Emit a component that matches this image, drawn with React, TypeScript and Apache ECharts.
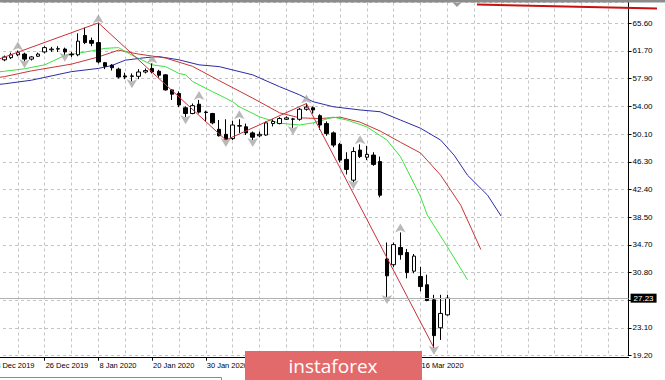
import React, { useEffect, useRef } from "react";
import * as echarts from "echarts";

// ---- data ----
const dates = [
  "13 Dec 2019", "16 Dec 2019", "17 Dec 2019", "18 Dec 2019", "19 Dec 2019", "20 Dec 2019",
  "23 Dec 2019", "24 Dec 2019", "26 Dec 2019", "27 Dec 2019", "30 Dec 2019", "31 Dec 2019",
  "2 Jan 2020", "3 Jan 2020", "6 Jan 2020", "7 Jan 2020", "8 Jan 2020", "9 Jan 2020",
  "10 Jan 2020", "13 Jan 2020", "14 Jan 2020", "15 Jan 2020", "16 Jan 2020", "17 Jan 2020",
  "20 Jan 2020", "21 Jan 2020", "22 Jan 2020", "23 Jan 2020", "24 Jan 2020", "27 Jan 2020",
  "28 Jan 2020", "29 Jan 2020", "30 Jan 2020", "31 Jan 2020", "3 Feb 2020", "4 Feb 2020",
  "5 Feb 2020", "6 Feb 2020", "7 Feb 2020", "10 Feb 2020", "11 Feb 2020", "12 Feb 2020",
  "13 Feb 2020", "14 Feb 2020", "17 Feb 2020", "18 Feb 2020", "19 Feb 2020", "20 Feb 2020",
  "21 Feb 2020", "24 Feb 2020", "25 Feb 2020", "26 Feb 2020", "27 Feb 2020", "28 Feb 2020",
  "2 Mar 2020", "3 Mar 2020", "4 Mar 2020", "5 Mar 2020", "6 Mar 2020", "9 Mar 2020",
  "10 Mar 2020", "11 Mar 2020", "12 Mar 2020", "13 Mar 2020", "16 Mar 2020", "17 Mar 2020",
  "18 Mar 2020", "19 Mar 2020", "20 Mar 2020",
];

const opens = [
  null, null, 60.5, 60.8, 61.2, 61.3, 60.6, 61.0, 61.6, 61.9, 62.0, 62.0,
  61.3, 61.2, 63.9, 63.2, 62.9, 60.1, 59.75, 59.2, 58.25, 58.25, 58.2, 58.8,
  59.3, 58.9, 58.4, 56.3, 55.8, 53.8, 53.0, 54.3, 53.2, 53.0, 50.8, 50.1,
  49.5, 51.3, 51.15, 50.3, 49.9, 50.0, 51.6, 51.6, 52.2, 52.2, 52.2, 53.6,
  53.8, 52.7, 51.6, 50.3, 48.7, 46.6, 43.7, 47.9, 46.9, 47.2, 46.3, 32.7,
  31.9, 34.3, 33.6, 31.0, 30.25, 29.1, 27.0, 23.1, 24.9,
];
const closes = [
  null, null, 60.9, 61.2, 61.5, 60.6, 60.9, 61.3, 62.2, 62.0, 62.05, 61.6,
  61.2, 63.1, 62.9, 62.8, 60.2, 59.6, 59.4, 58.1, 58.1, 58.2, 58.8, 59.0,
  58.8, 58.35, 56.3, 55.7, 54.2, 53.0, 54.1, 53.2, 53.15, 51.7, 49.9, 49.4,
  51.4, 51.25, 50.3, 49.7, 50.1, 51.7, 51.9, 52.3, 52.4, 52.25, 53.6, 53.9,
  53.5, 51.4, 50.2, 48.6, 46.5, 45.2, 47.7, 47.0, 47.3, 45.9, 41.6, 30.35,
  34.7, 33.3, 30.8, 33.1, 28.85, 26.9, 22.0, 25.1, 27.23,
];
const lows = [
  null, null, 60.3, 60.6, 61.0, 60.3, 60.4, 60.9, 61.4, 61.6, 61.6, 61.2,
  60.9, 61.0, 62.7, 62.4, 60.0, 59.2, 59.0, 57.9, 57.8, 57.5, 57.8, 58.6,
  58.6, 58.0, 56.2, 54.9, 53.9, 52.5, 52.9, 53.0, 51.85, 51.5, 49.8, 49.3,
  49.3, 50.3, 50.0, 49.3, 49.7, 49.9, 51.2, 51.5, 52.1, 51.0, 52.0, 53.4,
  53.0, 50.7, 49.9, 48.3, 46.2, 44.5, 43.4, 46.8, 46.5, 45.7, 41.3, 27.4,
  31.6, 32.6, 30.0, 30.7, 28.2, 26.8, 20.3, 21.4, 24.8,
];
const highs = [
  null, null, 61.1, 61.5, 61.8, 61.5, 61.0, 61.5, 62.4, 62.3, 62.4, 62.2,
  61.6, 64.2, 65.0, 63.6, 65.6, 60.2, 59.9, 59.4, 58.7, 58.6, 59.2, 59.3,
  60.0, 59.1, 58.5, 56.4, 56.1, 54.0, 54.4, 54.9, 53.4, 53.1, 52.1, 52.2,
  52.0, 52.2, 51.6, 50.5, 50.5, 51.9, 52.2, 52.5, 52.6, 52.4, 53.8, 54.4,
  54.0, 52.9, 51.9, 50.5, 48.9, 47.6, 48.3, 48.7, 48.5, 47.6, 47.0, 35.0,
  35.0, 36.4, 34.1, 33.4, 31.6, 30.5, 27.7, 27.7, 27.7,
];
const lastPrice = 27.23;

// Alligator lines: [bar index, price]
const jawLine = [
  [0, 56.95], [2, 57.15], [6, 57.65], [12, 58.85], [16, 59.3], [18, 59.7], [20, 60.45],
  [23, 60.8], [25, 60.95], [28, 60.5], [31, 59.8], [34, 59.55], [39, 58.4], [43, 56.75],
  [46, 55.6], [48, 54.65], [51, 53.95], [55, 53.5], [58, 53.25], [61, 52.1], [64, 50.95],
  [67, 49.3], [69, 47.2], [71, 44.4], [74, 41.6], [76, 38.7],
];
const teethLine = [
  [0, 57.9], [2, 58.15], [6, 58.95], [12, 59.9], [16, 60.9], [19, 61.85], [22, 61.3],
  [26, 60.75], [30, 59.6], [34, 57.6], [39, 55.15], [43, 53.1], [46, 52.4], [49, 52.3],
  [52, 52.5], [55, 51.8], [58, 50.55], [61, 49.0], [64, 47.5], [67, 44.4], [70, 40.2],
  [73, 34.0],
];
const lipsLine = [
  [0, 58.7], [2, 58.9], [5, 59.25], [8, 59.8], [11, 61.1], [15, 61.75], [17, 62.1],
  [19, 62.2], [21, 61.15], [22, 60.7], [24, 59.8], [26, 59.55], [28, 58.6], [29, 58.4],
  [30, 57.5], [31, 57.0], [33, 56.05], [34, 55.6], [36, 54.65], [37, 53.95], [40, 52.55],
  [43, 51.65], [46, 51.4], [48, 51.7], [51, 52.5], [53, 52.1], [56, 51.15], [59, 49.3],
  [61, 47.0], [63, 43.3], [64, 41.4], [65, 38.85], [68, 34.4], [71, 29.8],
];
const zigzagLine = [[0, 60.2], [16, 65.65], [35, 49.3], [47, 54.4], [66, 20.3]];
const upFractalBars = [4, 16, 24, 31, 37, 47, 55, 61];
const downFractalBars = [5, 11, 21, 29, 35, 39, 45, 54, 59, 66];
// date labels that lie under the watermark in the reference
const coveredLabelBars = [40, 48, 56];

const yTickLabels = [
  "19.20", "23.10", "", "30.80", "34.70", "38.50", "42.40",
  "46.30", "50.10", "54.00", "57.90", "61.70", "65.60",
];
const Y_MIN = 19.2;
const Y_MAX = 68.5;
const Y_STEP = (65.6 - 19.2) / 12;
const SLOT_COUNT = 96;

const FONT = '"Liberation Sans", Arial, sans-serif';
const SHIFT = 11; // chart canvas starts this many px left of the page

export default function App() {
  const ref = useRef<HTMLDivElement>(null);

  useEffect(() => {
    const chart = echarts.init(ref.current!, null, { renderer: "svg" });
    const categories = Array.from({ length: SLOT_COUNT }, (_, i) => dates[i] ?? `slot${i}`);
    const candleData = dates.map((_, i) =>
      opens[i] == null ? "-" : [opens[i], closes[i], lows[i], highs[i]]
    );
    const tickAt = (idx: number) => idx % 8 === 0 && idx < dates.length;
    const labelAt = (idx: number) => tickAt(idx) && !coveredLabelBars.includes(idx);
    const px = (x: number) => x + SHIFT;

    const option: any = {
      animation: false,
      backgroundColor: "#ffffff",
      grid: { left: 0.2, right: 36.45, top: 2.5, bottom: 24.3, containLabel: false },
      xAxis: {
        type: "category",
        data: categories,
        boundaryGap: false,
        offset: 2,
        axisLine: { show: true, lineStyle: { color: "#000", width: 1 } },
        axisTick: { show: true, length: 3, interval: (i: number) => tickAt(i), lineStyle: { color: "#000" } },
        axisLabel: {
          interval: (i: number) => labelAt(i),
          formatter: (v: string, i: number) => (i < dates.length ? v : ""),
          align: "left",
          margin: 4,
          padding: [0, 0, 0, 1],
          fontSize: 7.5,
          fontFamily: FONT,
          color: "#000",
        },
        splitLine: {
          show: true,
          interval: (i: number) => i % 4 === 0,
          lineStyle: { color: "#c4c4c4", type: [3, 3], width: 1 },
        },
      },
      yAxis: {
        type: "value",
        position: "right",
        min: Y_MIN,
        max: Y_MAX,
        interval: Y_STEP,
        scale: true,
        axisLine: { show: true, lineStyle: { color: "#000", width: 1 } },
        axisTick: { show: true, length: 3, lineStyle: { color: "#000" } },
        axisLabel: {
          margin: 4,
          fontSize: 8,
          fontFamily: FONT,
          color: "#000",
          showMaxLabel: false,
          formatter: (v: number) => {
            const k = Math.round((v - Y_MIN) / Y_STEP);
            if (Math.abs(v - (Y_MIN + k * Y_STEP)) > 1e-6) return "";
            return yTickLabels[k] ?? "";
          },
        },
        splitLine: { show: true, lineStyle: { color: "#c4c4c4", type: [3, 3], width: 1 } },
      },
      series: [
        { type: "line", data: jawLine, showSymbol: false, lineStyle: { color: "#2b2ba6", width: 1 }, z: 2 },
        { type: "line", data: teethLine, showSymbol: false, lineStyle: { color: "#c83636", width: 1 }, z: 2 },
        { type: "line", data: lipsLine, showSymbol: false, lineStyle: { color: "#3ee03e", width: 1 }, z: 2 },
        {
          type: "candlestick",
          data: candleData,
          barWidth: 4,
          itemStyle: {
            color: "#ffffff",
            color0: "#000000",
            borderColor: "#000000",
            borderColor0: "#000000",
            borderWidth: 1,
          },
          z: 3,
          markLine: {
            silent: true,
            symbol: "none",
            data: [{ yAxis: lastPrice }],
            lineStyle: { color: "#b0b0b0", type: "solid", width: 1 },
            label: {
              show: true,
              position: "end",
              distance: 2,
              formatter: lastPrice.toFixed(2),
              backgroundColor: "#000",
              color: "#fff",
              fontSize: 8,
              fontFamily: FONT,
              padding: [1, 3, 0, 3],
            },
          },
        },
        { type: "line", data: zigzagLine, showSymbol: false, lineStyle: { color: "#c8303c", width: 1 }, z: 4 },
        {
          type: "scatter",
          data: upFractalBars.map((i) => [i, highs[i]]),
          symbol: "arrow",
          symbolSize: [8, 9],
          symbolOffset: [0, -9],
          itemStyle: { color: "#a8a8a8" },
          z: 4,
        },
        {
          type: "scatter",
          data: downFractalBars.map((i) => [i, lows[i]]),
          symbol: "arrow",
          symbolSize: [8, 9],
          symbolRotate: 180,
          symbolOffset: [0, 7],
          itemStyle: { color: "#a8a8a8" },
          z: 4,
        },
      ],
      graphic: [
        { type: "rect", shape: { x: 0, y: 0, width: 690, height: 2.5 }, style: { fill: "#8c8c8c" }, z: 50 },
        { type: "polygon", shape: { points: [[px(453), 3], [px(461), 3], [px(457), 7]] }, style: { fill: "#9a9a9a" }, z: 50 },
        { type: "line", shape: { x1: px(477), y1: 4.5, x2: px(657), y2: 8.5 }, style: { stroke: "#c81010", lineWidth: 2 }, z: 50 },
        {
          type: "polyline",
          shape: { points: [[0, 377.5], [px(221.5), 377.5], [px(221.5), 380]] },
          style: { stroke: "#8c8c8c", lineWidth: 1, fill: "none" },
          z: 50,
        },
        { type: "rect", shape: { x: px(245), y: 351, width: 177, height: 29 }, style: { fill: "#e36a6a" }, z: 100 },
        {
          type: "text",
          x: px(333),
          y: 365.5,
          style: {
            text: "instaforex",
            fill: "#ffffff",
            fontSize: 19,
            fontFamily: '"Open Sans", sans-serif',
            align: "center",
            verticalAlign: "middle",
            textAlign: "center",
            textVerticalAlign: "middle",
          },
          z: 101,
        },
      ],
    };

    chart.setOption(option);
    return () => chart.dispose();
  }, []);

  return (
    <div
      ref={ref}
      style={{ position: "fixed", left: -SHIFT, top: 0, width: 665 + SHIFT, height: 380, background: "#fff" }}
    />
  );
}
